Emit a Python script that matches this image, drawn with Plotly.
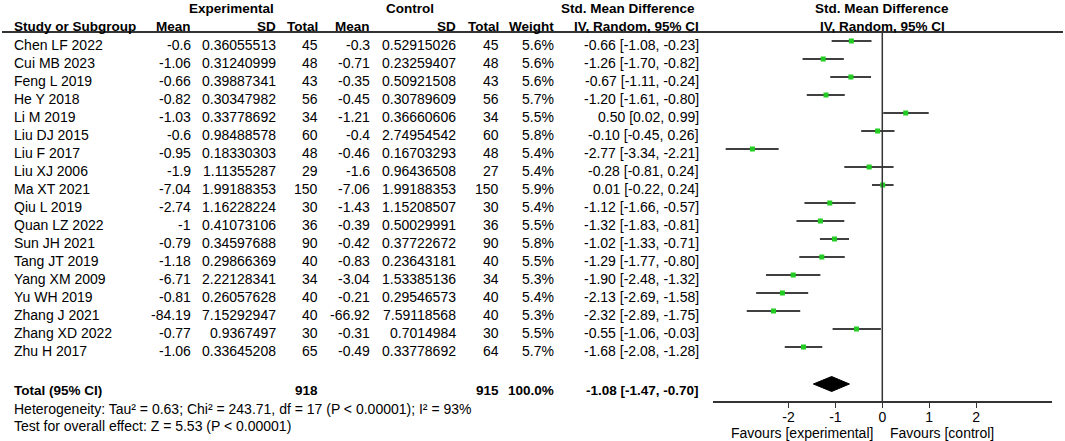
import plotly.graph_objects as go

studies = ["Chen LF 2022", "Cui MB 2023", "Feng L 2019", "He Y 2018", "Li M 2019",
           "Liu DJ 2015", "Liu F 2017", "Liu XJ 2006", "Ma XT 2021", "Qiu L 2019",
           "Quan LZ 2022", "Sun JH 2021", "Tang JT 2019", "Yang XM 2009", "Yu WH 2019",
           "Zhang J 2021", "Zhang XD 2022", "Zhu H 2017"]
exp_mean = ["-0.6", "-1.06", "-0.66", "-0.82", "-1.03", "-0.6", "-0.95", "-1.9", "-7.04",
            "-2.74", "-1", "-0.79", "-1.18", "-6.71", "-0.81", "-84.19", "-0.77", "-1.06"]
exp_sd = ["0.36055513", "0.31240999", "0.39887341", "0.30347982", "0.33778692", "0.98488578",
          "0.18330303", "1.11355287", "1.99188353", "1.16228224", "0.41073106", "0.34597688",
          "0.29866369", "2.22128341", "0.26057628", "7.15292947", "0.9367497", "0.33645208"]
exp_n = [45, 48, 43, 56, 34, 60, 48, 29, 150, 30, 36, 90, 40, 34, 40, 40, 30, 65]
ctl_mean = ["-0.3", "-0.71", "-0.35", "-0.45", "-1.21", "-0.4", "-0.46", "-1.6", "-7.06",
            "-1.43", "-0.39", "-0.42", "-0.83", "-3.04", "-0.21", "-66.92", "-0.31", "-0.49"]
ctl_sd = ["0.52915026", "0.23259407", "0.50921508", "0.30789609", "0.36660606", "2.74954542",
          "0.16703293", "0.96436508", "1.99188353", "1.15208507", "0.50029991", "0.37722672",
          "0.23643181", "1.53385136", "0.29546573", "7.59118568", "0.7014984", "0.33778692"]
ctl_n = [45, 48, 43, 56, 34, 60, 48, 27, 150, 30, 36, 90, 40, 34, 40, 40, 30, 64]
weight = ["5.6%", "5.6%", "5.6%", "5.7%", "5.5%", "5.8%", "5.4%", "5.4%", "5.9%",
          "5.4%", "5.5%", "5.8%", "5.5%", "5.3%", "5.4%", "5.3%", "5.5%", "5.7%"]
smd = [-0.66, -1.26, -0.67, -1.20, 0.50, -0.10, -2.77, -0.28, 0.01,
       -1.12, -1.32, -1.02, -1.29, -1.90, -2.13, -2.32, -0.55, -1.68]
lo = [-1.08, -1.70, -1.11, -1.61, 0.02, -0.45, -3.34, -0.81, -0.22,
      -1.66, -1.83, -1.33, -1.77, -2.48, -2.69, -2.89, -1.06, -2.08]
hi = [-0.23, -0.82, -0.24, -0.80, 0.99, 0.26, -2.21, 0.24, 0.24,
      -0.57, -0.81, -0.71, -0.80, -1.32, -1.58, -1.75, -0.03, -1.28]

total_exp = 918
total_ctl = 915
total_smd, total_lo, total_hi = -1.08, -1.47, -0.70
xticks = [-2, -1, 0, 1, 2]

W, H = 1065, 441
FONT = "Arial, Liberation Sans, sans-serif"
FS = 14

# pixel rows (y axis runs in screen pixels, top = 0)
row_mark = [41 + 18 * i for i in range(len(studies))]
row_text = [m + 4 for m in row_mark]
total_y, total_text_y = 384, 390

fig = go.Figure()

# CI whiskers
wx, wy = [], []
for y, a, b in zip(row_mark, lo, hi):
    wx += [a, b, None]
    wy += [y, y, None]
fig.add_trace(go.Scatter(x=wx, y=wy, mode="lines",
                         line=dict(color="#404040", width=2), hoverinfo="skip"))
fig.add_trace(go.Scatter(x=smd, y=row_mark, mode="markers",
                         marker=dict(symbol="square", size=5, color="#22cc22"),
                         hoverinfo="skip"))
# pooled diamond
fig.add_trace(go.Scatter(x=[total_lo, total_smd, total_hi, total_smd, total_lo],
                         y=[total_y, total_y - 7.5, total_y, total_y + 7.5, total_y],
                         mode="lines", fill="toself", fillcolor="black",
                         line=dict(color="black", width=1), hoverinfo="skip"))

ann = []


def txt(x, y, s, anchor="right", bold=False, size=FS):
    if bold:
        s = "<b>" + s + "</b>"
    ann.append(dict(x=x / W, y=y, xref="paper", yref="y", text=s, showarrow=False,
                    xanchor=anchor, yanchor="middle",
                    font=dict(family=FONT, size=size, color="black")))


# headers
txt(231, 8, "Experimental", "center", True, 13.5)
txt(410, 8, "Control", "center", True, 13.5)
txt(628, 8, "Std. Mean Difference", "center", True, 13.5)
txt(882, 8, "Std. Mean Difference", "center", True, 13.5)
txt(12, 26, "Study or Subgroup", "left", True, 13.5)
txt(193, 26, "Mean", bold=True, size=13.5)
txt(278, 26, "SD", bold=True, size=13.5)
txt(320, 26, "Total", bold=True, size=13.5)
txt(372, 26, "Mean", bold=True, size=13.5)
txt(458, 26, "SD", bold=True, size=13.5)
txt(501, 26, "Total", bold=True, size=13.5)
txt(556, 26, "Weight", bold=True, size=13.5)
txt(701, 26, "IV, Random, 95% CI", bold=True, size=13.5)
txt(882, 26, "IV, Random, 95% CI", "center", True, 13.5)

for i, y in enumerate(row_text):
    txt(12, y, studies[i], "left")
    txt(193, y, exp_mean[i])
    txt(278, y, exp_sd[i])
    txt(320, y, str(exp_n[i]))
    txt(372, y, ctl_mean[i])
    txt(458, y, ctl_sd[i])
    txt(501, y, str(ctl_n[i]))
    txt(556, y, weight[i])
    txt(701, y, f"{smd[i]:.2f} [{lo[i]:.2f}, {hi[i]:.2f}]")

txt(12, total_text_y, "Total (95% CI)", "left", True, 13.5)
txt(320, total_text_y, str(total_exp), bold=True, size=13.5)
txt(501, total_text_y, str(total_ctl), bold=True, size=13.5)
txt(556, total_text_y, "100.0%", bold=True, size=13.5)
txt(701, total_text_y, f"{total_smd:.2f} [{total_lo:.2f}, {total_hi:.2f}]", bold=True, size=13.5)
txt(12, 409, "Heterogeneity: Tau² = 0.63; Chi² = 243.71, df = 17 (P < 0.00001); I² = 93%", "left")
txt(12, 426, "Test for overall effect: Z = 5.53 (P < 0.00001)", "left")
txt(875, 433, "Favours [experimental]", "right")
txt(888, 433, "Favours [control]", "left")

shapes = [
    dict(type="line", xref="paper", yref="y", x0=2 / W, x1=1063 / W, y0=32, y1=32,
         line=dict(color="#333333", width=2)),
    dict(type="line", xref="x", yref="y", x0=0, x1=0, y0=32, y1=402,
         line=dict(color="#333333", width=1.5)),
]

x0px, x1px, zpx, k = 713, 1052, 882.3, 46.9
fig.update_layout(
    width=W, height=H, margin=dict(l=0, r=0, t=0, b=0),
    paper_bgcolor="white", plot_bgcolor="white", showlegend=False,
    annotations=ann, shapes=shapes,
    xaxis=dict(domain=[x0px / W, x1px / W], range=[(x0px - zpx) / k, (x1px - zpx) / k],
               tickvals=xticks, ticktext=[str(t) for t in xticks],
               showgrid=False, zeroline=False, showline=True, linecolor="#333333",
               linewidth=1.5, ticks="outside", ticklen=5, tickcolor="#333333",
               ticklabelstandoff=-3,
               tickfont=dict(family=FONT, size=FS, color="black"),
               anchor="free", position=(H - 402) / H),
    yaxis=dict(domain=[0, 1], range=[H, 0], visible=False),
)

fig.write_html("out.html", config={"displayModeBar": False},
               post_script="document.body.style.margin='0';")
